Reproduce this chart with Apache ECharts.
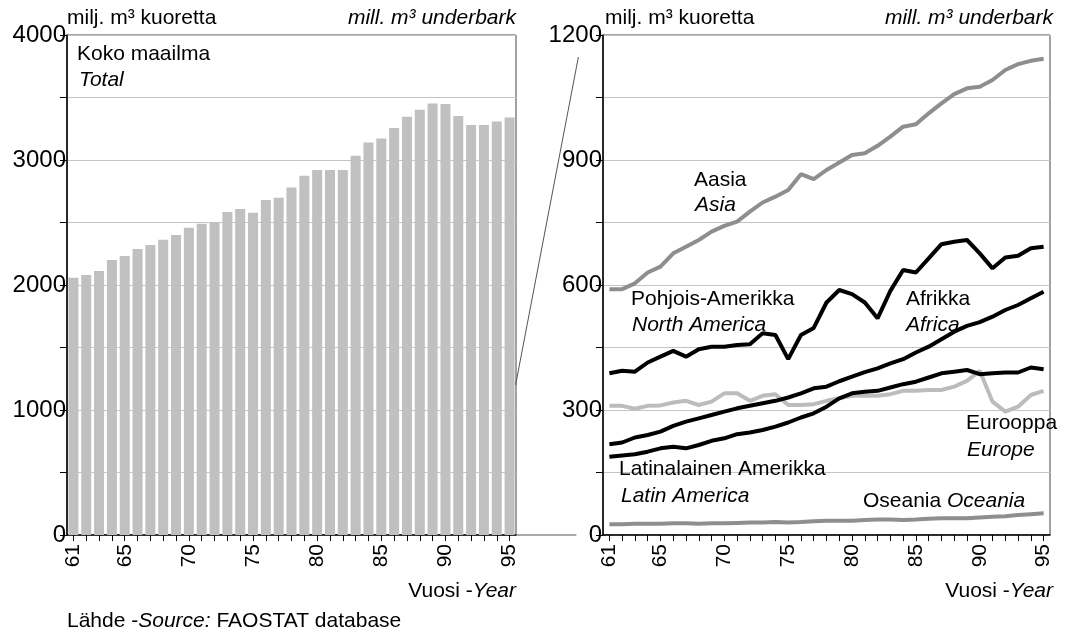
<!DOCTYPE html>
<html>
<head>
<meta charset="utf-8">
<script src="https://cdn.jsdelivr.net/npm/echarts@6/dist/echarts.min.js"></script>
<style>
html,body{margin:0;padding:0;background:#fff;}
#chart{width:1086px;height:634px;}
</style>
</head>
<body>
<div id="chart"></div>
<script>
// vuodet 1961-1995
const years = ['61','62','63','64','65','66','67','68','69','70','71','72','73','74','75','76','77','78',
  '79','80','81','82','83','84','85','86','87','88','89','90','91','92','93','94','95'];

// koko maailma, milj. m3
const total = [2058,2080,2112,2200,2232,2288,2320,2363,2400,2459,2491,2501,2584,2608,2579,2680,2699,2781,
  2875,2920,2920,2920,3035,3141,3173,3256,3347,3403,3453,3448,3352,3280,3280,3309,3341];

const asia = [590,590,604,630,644,676,692,708,728,742,752,776,798,812,828,866,854,876,
  894,912,916,934,956,980,986,1012,1036,1058,1072,1076,1092,1116,1130,1138,1143];
const northAmerica = [388,394,392,414,428,442,428,446,452,452,456,458,484,480,422,480,497,558,
  588,578,558,520,586,636,630,664,698,704,708,676,640,666,670,688,692];
const africa = [218,222,234,240,248,262,272,280,288,296,304,310,316,322,330,340,352,356,
  369,380,391,400,412,422,438,452,470,488,502,511,524,540,552,568,584];
const latinAmerica = [188,191,194,200,208,212,208,216,226,232,242,246,252,260,270,282,292,308,
  328,340,344,346,354,362,368,378,388,392,396,386,388,390,390,402,398];
const europe = [310,310,303,310,311,318,322,312,320,340,340,322,334,338,312,312,314,322,
  328,334,334,334,338,346,346,348,348,356,370,394,320,296,308,336,346];
const oceania = [26,26,27,27,27,28,28,27,28,28,29,30,30,31,30,31,33,34,
  34,34,36,37,37,36,37,39,40,40,40,42,44,45,48,50,52];

const FONT = 'Liberation Sans';
const FS = 21;
const chart = echarts.init(document.getElementById('chart'));

function xAxisOpt(gridIndex){
  return {
    type:'category', gridIndex:gridIndex, data:years, boundaryGap:true,
    axisLine:{lineStyle:{color:'#000',width:1.5}},
    axisTick:{show:true,interval:0,alignWithLabel:true,length:6,lineStyle:{color:'#000'}},
    axisLabel:{
      interval:function(i,v){return i===0 || (+v)%5===0;},
      rotate:90, margin:9, color:'#000', fontFamily:FONT, fontSize:21
    }
  };
}
function yAxisOpt(gridIndex,max,step){
  return {
    type:'value', gridIndex:gridIndex, min:0, max:max, interval:step,
    axisLine:{show:true,lineStyle:{color:'#000',width:1.5}},
    axisTick:{show:true,length:7,lineStyle:{color:'#000'}},
    axisLabel:{
      formatter:function(v){return v%(step*2)===0 ? String(v) : '';},
      margin:1, color:'#000', fontFamily:FONT, fontSize:24
    },
    splitLine:{show:true,lineStyle:{color:'#c4c4c4',width:1}}
  };
}

function txt(x,y,t){
  return {type:'text',x:x,y:y,z:20,
    style:{text:t,fill:'#000',font:FS+'px "'+FONT+'"',verticalAlign:'middle'}};
}
function txtI(x,y,t,align){
  return {type:'text',x:x,y:y,z:20,
    style:{text:t,fill:'#000',font:'italic '+FS+'px "'+FONT+'"',verticalAlign:'middle',align:align||'left'}};
}
const rich = {n:{font:FS+'px "'+FONT+'"',fill:'#000'},i:{font:'italic '+FS+'px "'+FONT+'"',fill:'#000'}};

function lineSeries(name,data,color){
  return {name:name,type:'line',xAxisIndex:1,yAxisIndex:1,data:data,symbol:'none',
    lineStyle:{color:color,width:4},itemStyle:{color:color},z:5};
}

chart.setOption({
  animation:false,
  backgroundColor:'#fff',
  grid:[
    {left:67,right:570,top:35,bottom:99,show:true,borderColor:'#444',borderWidth:1},
    {left:603,right:36,top:35,bottom:99,show:true,borderColor:'#444',borderWidth:1}
  ],
  xAxis:[xAxisOpt(0),xAxisOpt(1)],
  yAxis:[yAxisOpt(0,4000,500),yAxisOpt(1,1200,150)],
  series:[
    {name:'Koko maailma',type:'bar',xAxisIndex:0,yAxisIndex:0,data:total,
      barCategoryGap:'22%',itemStyle:{color:'#c0c0c0'},z:3},
    lineSeries('Aasia',asia,'#8e8e8e'),
    lineSeries('Oseania',oceania,'#8e8e8e'),
    lineSeries('Eurooppa',europe,'#bcbcbc'),
    lineSeries('Pohjois-Amerikka',northAmerica,'#000'),
    lineSeries('Afrikka',africa,'#000'),
    lineSeries('Latinalainen Amerikka',latinAmerica,'#000')
  ],
  graphic:[
    txt(67,18,'milj. m³ kuoretta'),
    txtI(516,18,'mill. m³ underbark','right'),
    txt(605,18,'milj. m³ kuoretta'),
    txtI(1053,18,'mill. m³ underbark','right'),
    txt(77,54,'Koko maailma'),
    txtI(79,80,'Total'),
    txt(694,180,'Aasia'),
    txtI(695,205,'Asia'),
    txt(631,299,'Pohjois-Amerikka'),
    txtI(632,325,'North America'),
    txt(906,299,'Afrikka'),
    txtI(906,325,'Africa'),
    txt(966,423,'Eurooppa'),
    txtI(967,450,'Europe'),
    txt(619,469,'Latinalainen Amerikka'),
    txtI(621,496,'Latin America'),
    txt(863,501,'Oseania'),
    txtI(947,501,'Oceania'),
    {type:'text',x:516,y:591,z:20,style:{text:'{n|Vuosi -}{i|Year}',align:'right',verticalAlign:'middle',rich:rich}},
    {type:'text',x:1053,y:591,z:20,style:{text:'{n|Vuosi -}{i|Year}',align:'right',verticalAlign:'middle',rich:rich}},
    {type:'text',x:67,y:621,z:20,style:{text:'{n|Lähde -}{i|Source:}{n| FAOSTAT database}',verticalAlign:'middle',rich:rich}}
  ]
});

// yhdysviivat: vasemman kuvan 0-1200 alue oikeaan kuvaan
const lTop = chart.convertToPixel({gridIndex:0},[years.length-1,1200]);
const lBot = chart.convertToPixel({gridIndex:0},[years.length-1,0]);
const rTop = chart.convertToPixel({gridIndex:1},[0,1200]);
const rBot = chart.convertToPixel({gridIndex:1},[0,0]);
const xL = lTop[0]+6, xR = rTop[0]-31;
chart.setOption({graphic:[
  {type:'line',id:'c1',z:1,shape:{x1:xL,y1:lTop[1],x2:xR,y2:rTop[1]+22},style:{stroke:'#555',lineWidth:1}},
  {type:'line',id:'c2',z:1,shape:{x1:xL,y1:lBot[1],x2:xR-2,y2:rBot[1]},style:{stroke:'#555',lineWidth:1}}
]});
</script>
</body>
</html>
